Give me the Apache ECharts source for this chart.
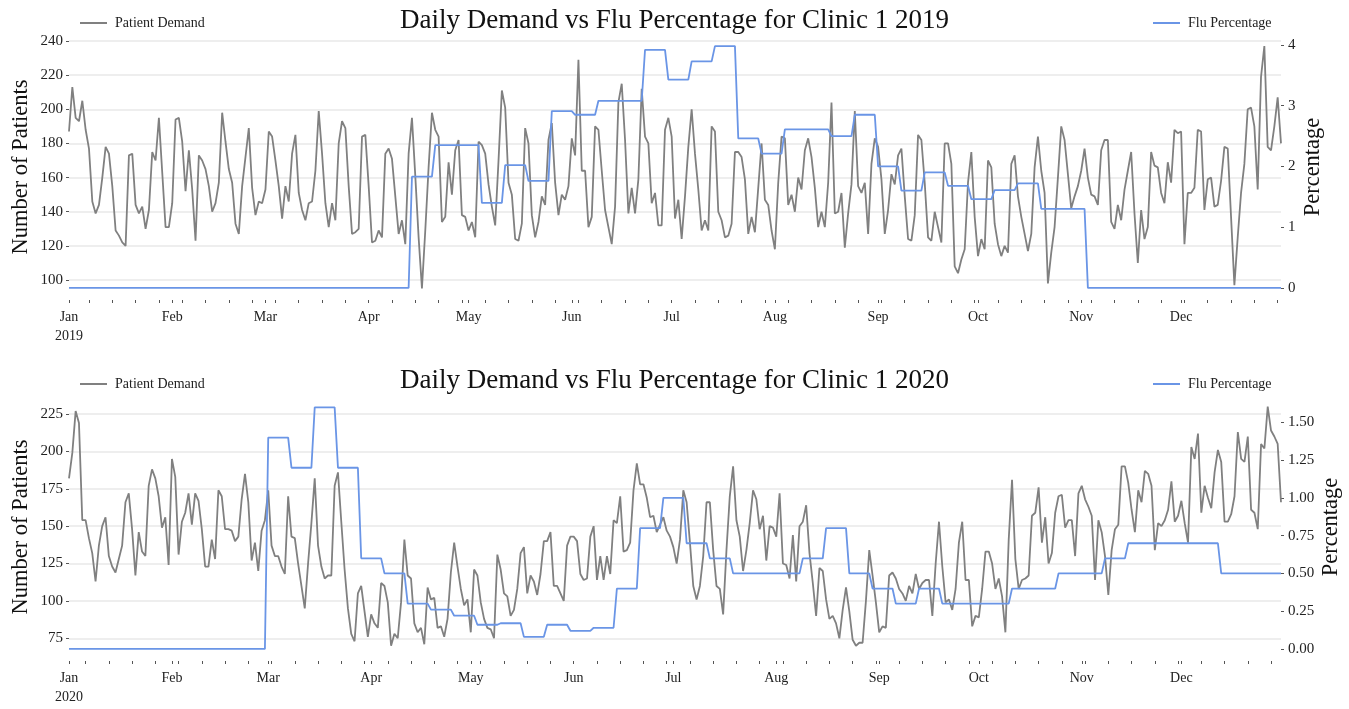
<!DOCTYPE html>
<html><head><meta charset="utf-8">
<script src="https://cdn.jsdelivr.net/npm/echarts@6/dist/echarts.min.js"></script>
<style>html,body{margin:0;padding:0;background:#fff}#c{width:1349px;height:709px}</style>
</head><body><div id="c"></div>
<script>
const monthNames = ['Jan','Feb','Mar','Apr','May','Jun','Jul','Aug','Sep','Oct','Nov','Dec'];

// Daily patient demand, 2019 (365 days)
const demand2019 = [
187,213,195,193,205,188,177,146,139,144,160,178,174,155,129,126,122,120,173,174,
144,139,143,130,141,175,170,195,163,131,131,145,194,195,181,152,176,153,123,173,
170,165,155,140,145,157,198,181,165,157,133,127,155,172,189,154,138,146,145,153,
187,184,170,155,136,155,146,174,185,151,141,135,145,146,164,199,174,145,131,145,
135,180,193,189,155,127,128,130,184,185,155,
122,123,129,125,174,177,171,149,127,135,121,174,195,161,125,95,129,166,198,188,
184,134,137,169,150,176,182,138,137,129,134,125,181,179,174,156,143,132,170,211,
201,157,150,124,123,133,189,180,138,125,134,149,144,182,192,157,138,150,147,155,
183,173,229,164,164,131,137,190,188,164,141,131,121,143,204,215,182,139,154,139,
159,212,184,180,145,151,132,132,188,195,184,136,147,
124,149,178,200,174,153,129,135,129,190,187,140,135,125,126,133,175,175,172,159,
127,137,128,154,180,147,144,129,118,157,184,183,144,150,140,160,153,176,183,172,
154,131,140,131,157,204,139,140,151,119,139,156,199,155,151,157,127,168,183,178,
159,127,141,162,156,173,177,149,124,123,138,185,182,157,125,123,140,131,122,180,
180,168,108,104,112,118,157,175,137,114,124,118,
170,166,133,121,114,120,116,168,173,149,137,127,117,127,166,184,164,151,98,116,
131,160,190,182,162,142,149,155,164,177,160,150,149,144,176,182,182,134,130,144,
135,153,164,175,139,110,141,124,131,175,167,166,151,145,169,157,188,186,187,121,
151,151,154,188,187,141,159,160,143,144,158,178,177,137,97,125,151,168,200,201,
190,153,219,237,178,176,190,207,180
];

// Daily patient demand, 2020 (366 days)
const demand2020 = [
182,199,227,219,154,154,142,132,113,137,150,156,130,123,119,128,137,166,172,148,
117,146,133,130,177,188,182,170,149,156,124,195,183,131,153,159,172,151,172,167,
148,123,123,141,128,174,170,148,148,147,140,143,168,185,166,127,139,120,147,154,
174,137,130,130,123,118,170,143,142,125,110,95,125,152,182,137,123,115,117,117,
177,186,153,121,95,78,73,105,
110,93,76,91,85,82,112,110,99,70,78,75,99,141,117,115,85,79,82,71,
109,101,102,82,83,76,88,119,139,123,108,97,101,79,121,117,99,88,82,81,
75,131,121,105,103,90,94,108,132,136,105,117,113,104,118,140,140,146,110,110,
105,100,137,143,143,140,118,114,115,143,150,114,130,114,130,118,154,152,170,133,
134,139,174,192,178,178,169,156,157,146,151,156,147,
143,136,125,141,174,166,139,110,101,110,130,166,166,134,110,108,91,134,170,190,
154,143,120,134,152,174,168,148,157,127,150,149,143,172,125,124,115,144,113,150,
153,164,132,112,90,122,120,101,88,90,85,75,94,109,93,74,70,72,72,100,
134,117,99,79,83,82,117,119,115,108,105,100,110,105,118,108,112,114,114,90,
125,153,123,99,101,94,108,139,153,114,114,83,90,
89,108,133,133,125,108,115,103,79,141,181,128,108,114,115,117,157,159,176,139,
156,125,132,159,170,171,149,154,154,130,172,177,168,163,157,114,154,146,130,104,
134,148,151,190,190,179,161,146,174,166,187,185,177,134,152,150,154,161,180,153,
157,167,152,139,203,195,212,159,177,169,162,186,201,193,153,153,158,170,213,195,
193,210,161,159,148,205,202,230,214,210,205,166
];

// Flu percentage: weekly plateaus (first day-of-year index, value)
const flu2019Start = [0,103,110,124,131,138,145,152,159,173,180,187,194,201,208,215,229,236,243,250,257,264,271,278,285,292,306];
const flu2019Value = [0,1.83,2.35,1.40,2.02,1.76,2.91,2.85,3.08,3.92,3.43,3.73,3.98,2.46,2.21,2.61,2.50,2.85,2.00,1.60,1.90,1.68,1.46,1.61,1.72,1.30,0];
const flu2020Start = [0,60,67,74,81,88,95,102,109,116,123,130,137,144,151,158,165,172,179,186,193,200,221,228,235,242,249,256,263,284,298,312,319,347];
const flu2020Value = [0,1.40,1.20,1.60,1.20,0.60,0.50,0.30,0.26,0.22,0.16,0.17,0.08,0.16,0.12,0.14,0.40,0.80,1.00,0.70,0.60,0.50,0.60,0.80,0.50,0.40,0.30,0.40,0.30,0.40,0.50,0.60,0.70,0.50];

// Axis ticks
const leftTicks2019 = [100,120,140,160,180,200,220,240];
const rightTicks2019 = [0,1,2,3,4];
const leftTicks2020 = [75,100,125,150,175,200,225];
const rightTicks2020 = [0,0.25,0.5,0.75,1.0,1.25,1.5];

const FONT = 'Liberation Serif';
const GRAY = '#808080';
const BLUE = '#6a95e6';

function dayCats(year, n) {
  const out = [];
  for (let i = 0; i < n; i++) {
    const d = new Date(Date.UTC(year, 0, 1 + i));
    out.push(d.toISOString().slice(0, 10));
  }
  return out;
}
function stepPoints(starts, values, lastDay) {
  const pts = [];
  for (let i = 0; i < starts.length; i++) {
    const end = i + 1 < starts.length ? starts[i + 1] - 1 : lastDay;
    pts.push([starts[i], values[i]]);
    if (end !== starts[i]) pts.push([end, values[i]]);
  }
  return pts;
}

const cats2019 = dayCats(2019, demand2019.length);
const cats2020 = dayCats(2020, demand2020.length);

function xAxis(grid, cats) {
  return {
    type: 'category', gridIndex: grid, data: cats, boundaryGap: false, position: 'bottom',
    axisLine: {show: false, onZero: false},
    axisTick: {show: true, length: 3,
      interval: function (idx, val) {
        const d = new Date(val + 'T00:00:00Z');
        return d.getUTCDate() === 1 || d.getUTCDay() === 1;
      },
      lineStyle: {color: '#555', width: 1}},
    axisLabel: {
      interval: function (idx, val) { return val.slice(8) === '01'; },
      formatter: function (val) {
        const m = parseInt(val.slice(5, 7), 10) - 1;
        return m === 0 ? monthNames[m] + '\n' + val.slice(0, 4) : monthNames[m];
      },
      margin: 8, fontFamily: FONT, fontSize: 14, lineHeight: 19, color: '#222'
    },
    splitLine: {show: false}
  };
}
function yAxisLeft(grid, min, max, ticks) {
  return {
    type: 'value', gridIndex: grid, position: 'left', min: min, max: max,
    name: 'Number of Patients', nameLocation: 'middle', nameGap: 36, nameMoveOverlap: false,
    nameTextStyle: {fontFamily: FONT, fontSize: 22.5, color: '#111'},
    axisLine: {show: false},
    axisTick: {show: true, length: 3, customValues: ticks, lineStyle: {color: '#555'}},
    axisLabel: {customValues: ticks, margin: 6, fontFamily: FONT, fontSize: 15, color: '#222'},
    splitLine: {show: true, lineStyle: {color: '#e8e8e8', width: 1.5}}
  };
}
function yAxisRight(grid, min, max, ticks, dec, gap) {
  return {
    type: 'value', gridIndex: grid, position: 'right', min: min, max: max,
    name: 'Percentage', nameLocation: 'middle', nameGap: gap, nameMoveOverlap: false,
    nameTextStyle: {fontFamily: FONT, fontSize: 22.5, color: '#111'},
    axisLine: {show: false},
    axisTick: {show: true, length: 3, customValues: ticks, lineStyle: {color: '#555'}},
    axisLabel: {customValues: ticks, margin: 7, fontFamily: FONT, fontSize: 15, color: '#222',
      formatter: function (v) { return v.toFixed(dec); }},
    splitLine: {show: false}
  };
}
function legend(name, left, top, color) {
  return {
    data: [{name: name, icon: 'rect', itemStyle: {color: color}}],
    left: left, top: top, itemWidth: 27, itemHeight: 2, padding: 0,
    selectedMode: false,
    textStyle: {fontFamily: FONT, fontSize: 14, color: '#222', padding: [0, 0, 0, 3]}
  };
}

const chart = echarts.init(document.getElementById('c'), null, {renderer: 'canvas'});
chart.setOption({
  animation: false,
  backgroundColor: '#fff',
  title: [
    {text: 'Daily Demand vs Flu Percentage for Clinic 1 2019', left: 'center', top: 2,
     textStyle: {fontFamily: FONT, fontSize: 27, fontWeight: 'normal', color: '#111'}},
    {text: 'Daily Demand vs Flu Percentage for Clinic 1 2020', left: 'center', top: 362,
     textStyle: {fontFamily: FONT, fontSize: 27, fontWeight: 'normal', color: '#111'}}
  ],
  legend: [
    legend('Patient Demand', 80, 16, GRAY),
    legend('Flu Percentage', 1153, 16, BLUE),
    legend('Patient Demand', 80, 377, GRAY),
    legend('Flu Percentage', 1153, 377, BLUE)
  ],
  grid: [
    {left: 69, right: 68, top: 34, height: 266, containLabel: false, outerBoundsMode: 'none'},
    {left: 69, right: 68, top: 393, height: 268, containLabel: false, outerBoundsMode: 'none'}
  ],
  xAxis: [xAxis(0, cats2019), xAxis(1, cats2020)],
  yAxis: [
    yAxisLeft(0, 88.3, 244.1, leftTicks2019),
    yAxisRight(0, -0.2, 4.18, rightTicks2019, 0, 21),
    yAxisLeft(1, 59.8, 239.1, leftTicks2020),
    yAxisRight(1, -0.08, 1.695, rightTicks2020, 2, 39)
  ],
  series: [
    {name: 'Patient Demand', type: 'line', xAxisIndex: 0, yAxisIndex: 0, data: demand2019,
     showSymbol: false, lineStyle: {color: GRAY, width: 1.8}, itemStyle: {color: GRAY}},
    {name: 'Flu Percentage', type: 'line', xAxisIndex: 0, yAxisIndex: 1,
     data: stepPoints(flu2019Start, flu2019Value, demand2019.length - 1),
     showSymbol: false, lineStyle: {color: BLUE, width: 1.8}, itemStyle: {color: BLUE}},
    {name: 'Patient Demand', type: 'line', xAxisIndex: 1, yAxisIndex: 2, data: demand2020,
     showSymbol: false, lineStyle: {color: GRAY, width: 1.8}, itemStyle: {color: GRAY}},
    {name: 'Flu Percentage', type: 'line', xAxisIndex: 1, yAxisIndex: 3,
     data: stepPoints(flu2020Start, flu2020Value, demand2020.length - 1),
     showSymbol: false, lineStyle: {color: BLUE, width: 1.8}, itemStyle: {color: BLUE}}
  ]
});
</script>
</body></html>
